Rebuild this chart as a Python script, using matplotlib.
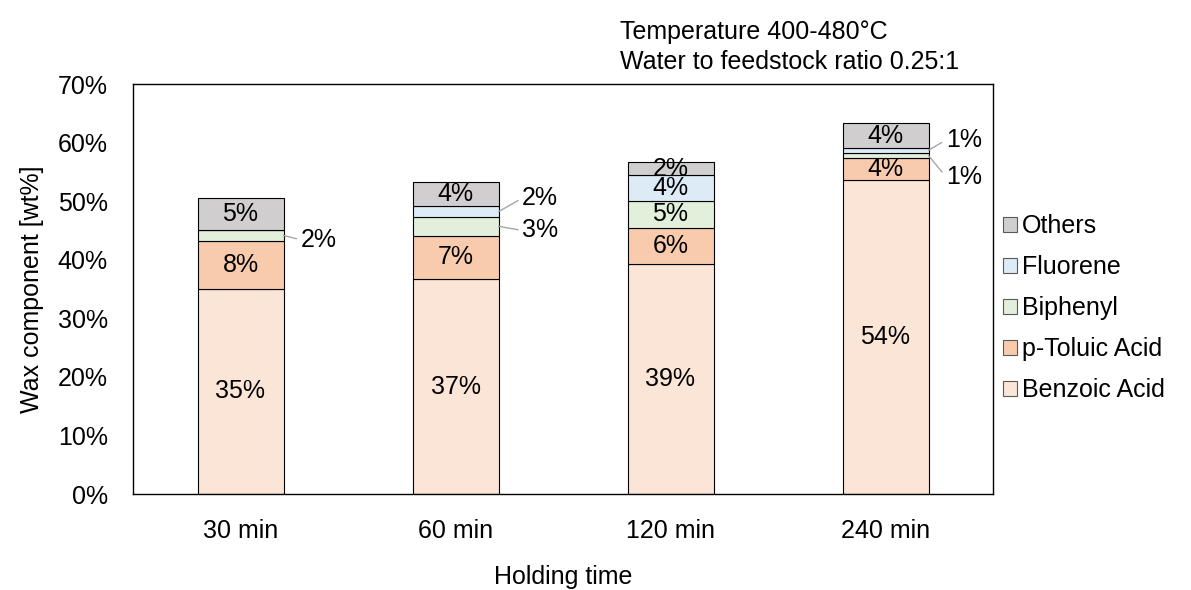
import matplotlib
matplotlib.use("Agg")
import matplotlib.pyplot as plt
from matplotlib.patches import Patch

plt.rcParams['font.family'] = ['Liberation Sans', 'DejaVu Sans']

categories = ["30 min", "60 min", "120 min", "240 min"]
components = ["Benzoic Acid", "p-Toluic Acid", "Biphenyl", "Fluorene", "Others"]
benzoic = [35.0, 36.7, 39.3, 53.6]
toluic = [8.2, 7.4, 6.1, 3.7]
biphenyl = [1.9, 3.2, 4.7, 1.0]
fluorene = [0.0, 1.8, 4.3, 0.8]
others = [5.4, 4.2, 2.2, 4.2]
series = [benzoic, toluic, biphenyl, fluorene, others]
colors = ["#FBE5D6", "#F8CBAD", "#E2EFDA", "#DDEBF7", "#D0CECE"]

fs = 18
fig = plt.figure(figsize=(11.91, 5.90), dpi=100)
ax = fig.add_axes([133 / 1191, 96 / 590, 860 / 1191, 410 / 590])

x = list(range(len(categories)))
width = 0.4
bottoms = [0.0] * len(categories)
segs = {}
for name, vals, col in zip(components, series, colors):
    ax.bar(x, vals, width, bottom=bottoms, color=col, edgecolor="black",
           linewidth=0.8, label=name, zorder=2)
    segs[name] = [(b, v) for b, v in zip(bottoms, vals)]
    bottoms = [b + v for b, v in zip(bottoms, vals)]

# Labels inside segments wide enough to hold them
inside = {
    "Benzoic Acid": [0, 1, 2, 3],
    "p-Toluic Acid": [0, 1, 2, 3],
    "Biphenyl": [2],
    "Fluorene": [2],
    "Others": [0, 1, 2, 3],
}
for name, idxs in inside.items():
    for i in idxs:
        b, v = segs[name][i]
        ax.text(x[i], b + v / 2, f"{round(v)}%", ha="center", va="center",
                fontsize=fs, zorder=3)

# Labels for thin segments, placed beside the bar with leader lines
outside = [
    ("Biphenyl", 0, 0.28, 43.4),
    ("Fluorene", 1, 0.31, 50.5),
    ("Biphenyl", 1, 0.31, 45.0),
    ("Fluorene", 3, 0.28, 60.4),
    ("Biphenyl", 3, 0.28, 54.2),
]
for name, i, dx, ty in outside:
    b, v = segs[name][i]
    ax.annotate(f"{round(v)}%", xy=(x[i] + width / 2, b + v / 2),
                xytext=(x[i] + dx, ty), ha="left", va="center", fontsize=fs,
                arrowprops=dict(arrowstyle="-", color="#A6A6A6", lw=1.0,
                                shrinkA=1, shrinkB=0, relpos=(0, 0.5)),
                zorder=3)

ax.set_xlim(-0.5, 3.5)
ax.set_ylim(0, 70)
ax.set_xticks(x)
ax.set_xticklabels(categories, fontsize=fs)
ax.set_yticks(range(0, 71, 10))
ax.set_yticklabels([f"{t}%" for t in range(0, 71, 10)], fontsize=fs)
ax.tick_params(axis="both", length=0)
ax.tick_params(axis="y", pad=18)
ax.tick_params(axis="x", pad=18)
for s in ax.spines.values():
    s.set_color("black")
    s.set_linewidth(1.0)

ax.set_ylabel("Wax component [wt%]", fontsize=fs, labelpad=10)
ax.set_xlabel("Holding time", fontsize=fs, labelpad=16)

fig.text(620 / 1191, 1 - 32 / 590, "Temperature 400-480°C", fontsize=fs,
         ha="left", va="center")
fig.text(620 / 1191, 1 - 62 / 590, "Water to feedstock ratio 0.25:1",
         fontsize=fs, ha="left", va="center")

handles = [Patch(facecolor=c, edgecolor="#595959", linewidth=0.8, label=n)
           for n, c in zip(components, colors)][::-1]
fig.legend(handles=handles, loc="center left",
           bbox_to_anchor=(1003 / 1191, 1 - 308 / 590), frameon=False,
           fontsize=fs, handlelength=0.55, handleheight=0.55,
           handletextpad=0.2, labelspacing=0.68, borderaxespad=0,
           borderpad=0)

fig.savefig("out.png", dpi=100)
